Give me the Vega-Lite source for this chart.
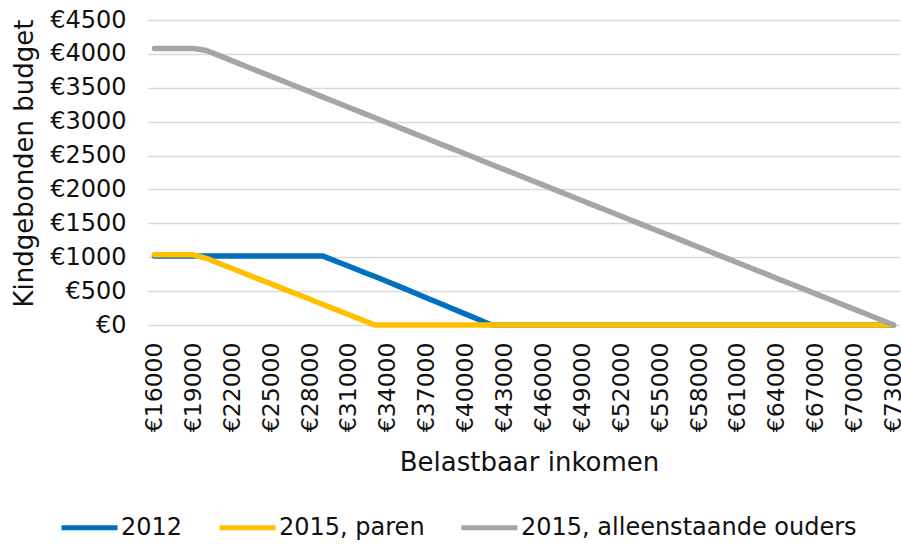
{
  "$schema": "https://vega.github.io/schema/vega-lite/v6.json",
  "autosize": "none",
  "width": 752,
  "height": 305,
  "padding": {"left": 148, "top": 20, "right": 1, "bottom": 220},
  "background": "white",
  "config": {
    "view": {"stroke": null},
    "font": "DejaVu Sans",
    "axis": {"labelFont": "DejaVu Sans", "titleFont": "DejaVu Sans", "labelColor": "#111111", "titleColor": "#111111", "titleFontWeight": "normal"}
  },
  "data": {
    "values": [
      {"inkomen": 16000, "serie": "2012", "budget": 1017},
      {"inkomen": 17000, "serie": "2012", "budget": 1017},
      {"inkomen": 18000, "serie": "2012", "budget": 1017},
      {"inkomen": 19000, "serie": "2012", "budget": 1017},
      {"inkomen": 20000, "serie": "2012", "budget": 1017},
      {"inkomen": 21000, "serie": "2012", "budget": 1017},
      {"inkomen": 22000, "serie": "2012", "budget": 1017},
      {"inkomen": 23000, "serie": "2012", "budget": 1017},
      {"inkomen": 24000, "serie": "2012", "budget": 1017},
      {"inkomen": 25000, "serie": "2012", "budget": 1017},
      {"inkomen": 26000, "serie": "2012", "budget": 1017},
      {"inkomen": 27000, "serie": "2012", "budget": 1017},
      {"inkomen": 28000, "serie": "2012", "budget": 1017},
      {"inkomen": 29000, "serie": "2012", "budget": 1017},
      {"inkomen": 30000, "serie": "2012", "budget": 941},
      {"inkomen": 31000, "serie": "2012", "budget": 866},
      {"inkomen": 32000, "serie": "2012", "budget": 790},
      {"inkomen": 33000, "serie": "2012", "budget": 715},
      {"inkomen": 34000, "serie": "2012", "budget": 639},
      {"inkomen": 35000, "serie": "2012", "budget": 559},
      {"inkomen": 36000, "serie": "2012", "budget": 479},
      {"inkomen": 37000, "serie": "2012", "budget": 399},
      {"inkomen": 38000, "serie": "2012", "budget": 320},
      {"inkomen": 39000, "serie": "2012", "budget": 240},
      {"inkomen": 40000, "serie": "2012", "budget": 160},
      {"inkomen": 41000, "serie": "2012", "budget": 80},
      {"inkomen": 42000, "serie": "2012", "budget": 0},
      {"inkomen": 43000, "serie": "2012", "budget": 0},
      {"inkomen": 44000, "serie": "2012", "budget": 0},
      {"inkomen": 45000, "serie": "2012", "budget": 0},
      {"inkomen": 46000, "serie": "2012", "budget": 0},
      {"inkomen": 47000, "serie": "2012", "budget": 0},
      {"inkomen": 48000, "serie": "2012", "budget": 0},
      {"inkomen": 49000, "serie": "2012", "budget": 0},
      {"inkomen": 50000, "serie": "2012", "budget": 0},
      {"inkomen": 51000, "serie": "2012", "budget": 0},
      {"inkomen": 52000, "serie": "2012", "budget": 0},
      {"inkomen": 53000, "serie": "2012", "budget": 0},
      {"inkomen": 54000, "serie": "2012", "budget": 0},
      {"inkomen": 55000, "serie": "2012", "budget": 0},
      {"inkomen": 56000, "serie": "2012", "budget": 0},
      {"inkomen": 57000, "serie": "2012", "budget": 0},
      {"inkomen": 58000, "serie": "2012", "budget": 0},
      {"inkomen": 59000, "serie": "2012", "budget": 0},
      {"inkomen": 60000, "serie": "2012", "budget": 0},
      {"inkomen": 61000, "serie": "2012", "budget": 0},
      {"inkomen": 62000, "serie": "2012", "budget": 0},
      {"inkomen": 63000, "serie": "2012", "budget": 0},
      {"inkomen": 64000, "serie": "2012", "budget": 0},
      {"inkomen": 65000, "serie": "2012", "budget": 0},
      {"inkomen": 66000, "serie": "2012", "budget": 0},
      {"inkomen": 67000, "serie": "2012", "budget": 0},
      {"inkomen": 68000, "serie": "2012", "budget": 0},
      {"inkomen": 69000, "serie": "2012", "budget": 0},
      {"inkomen": 70000, "serie": "2012", "budget": 0},
      {"inkomen": 71000, "serie": "2012", "budget": 0},
      {"inkomen": 72000, "serie": "2012", "budget": 0},
      {"inkomen": 73000, "serie": "2012", "budget": 0},
      {"inkomen": 16000, "serie": "2015, paren", "budget": 1035},
      {"inkomen": 17000, "serie": "2015, paren", "budget": 1035},
      {"inkomen": 18000, "serie": "2015, paren", "budget": 1035},
      {"inkomen": 19000, "serie": "2015, paren", "budget": 1035},
      {"inkomen": 20000, "serie": "2015, paren", "budget": 984},
      {"inkomen": 21000, "serie": "2015, paren", "budget": 908},
      {"inkomen": 22000, "serie": "2015, paren", "budget": 833},
      {"inkomen": 23000, "serie": "2015, paren", "budget": 757},
      {"inkomen": 24000, "serie": "2015, paren", "budget": 681},
      {"inkomen": 25000, "serie": "2015, paren", "budget": 606},
      {"inkomen": 26000, "serie": "2015, paren", "budget": 530},
      {"inkomen": 27000, "serie": "2015, paren", "budget": 454},
      {"inkomen": 28000, "serie": "2015, paren", "budget": 379},
      {"inkomen": 29000, "serie": "2015, paren", "budget": 303},
      {"inkomen": 30000, "serie": "2015, paren", "budget": 227},
      {"inkomen": 31000, "serie": "2015, paren", "budget": 151},
      {"inkomen": 32000, "serie": "2015, paren", "budget": 76},
      {"inkomen": 33000, "serie": "2015, paren", "budget": 0},
      {"inkomen": 34000, "serie": "2015, paren", "budget": 0},
      {"inkomen": 35000, "serie": "2015, paren", "budget": 0},
      {"inkomen": 36000, "serie": "2015, paren", "budget": 0},
      {"inkomen": 37000, "serie": "2015, paren", "budget": 0},
      {"inkomen": 38000, "serie": "2015, paren", "budget": 0},
      {"inkomen": 39000, "serie": "2015, paren", "budget": 0},
      {"inkomen": 40000, "serie": "2015, paren", "budget": 0},
      {"inkomen": 41000, "serie": "2015, paren", "budget": 0},
      {"inkomen": 42000, "serie": "2015, paren", "budget": 0},
      {"inkomen": 43000, "serie": "2015, paren", "budget": 0},
      {"inkomen": 44000, "serie": "2015, paren", "budget": 0},
      {"inkomen": 45000, "serie": "2015, paren", "budget": 0},
      {"inkomen": 46000, "serie": "2015, paren", "budget": 0},
      {"inkomen": 47000, "serie": "2015, paren", "budget": 0},
      {"inkomen": 48000, "serie": "2015, paren", "budget": 0},
      {"inkomen": 49000, "serie": "2015, paren", "budget": 0},
      {"inkomen": 50000, "serie": "2015, paren", "budget": 0},
      {"inkomen": 51000, "serie": "2015, paren", "budget": 0},
      {"inkomen": 52000, "serie": "2015, paren", "budget": 0},
      {"inkomen": 53000, "serie": "2015, paren", "budget": 0},
      {"inkomen": 54000, "serie": "2015, paren", "budget": 0},
      {"inkomen": 55000, "serie": "2015, paren", "budget": 0},
      {"inkomen": 56000, "serie": "2015, paren", "budget": 0},
      {"inkomen": 57000, "serie": "2015, paren", "budget": 0},
      {"inkomen": 58000, "serie": "2015, paren", "budget": 0},
      {"inkomen": 59000, "serie": "2015, paren", "budget": 0},
      {"inkomen": 60000, "serie": "2015, paren", "budget": 0},
      {"inkomen": 61000, "serie": "2015, paren", "budget": 0},
      {"inkomen": 62000, "serie": "2015, paren", "budget": 0},
      {"inkomen": 63000, "serie": "2015, paren", "budget": 0},
      {"inkomen": 64000, "serie": "2015, paren", "budget": 0},
      {"inkomen": 65000, "serie": "2015, paren", "budget": 0},
      {"inkomen": 66000, "serie": "2015, paren", "budget": 0},
      {"inkomen": 67000, "serie": "2015, paren", "budget": 0},
      {"inkomen": 68000, "serie": "2015, paren", "budget": 0},
      {"inkomen": 69000, "serie": "2015, paren", "budget": 0},
      {"inkomen": 70000, "serie": "2015, paren", "budget": 0},
      {"inkomen": 71000, "serie": "2015, paren", "budget": 0},
      {"inkomen": 72000, "serie": "2015, paren", "budget": 0},
      {"inkomen": 73000, "serie": "2015, paren", "budget": 0},
      {"inkomen": 16000, "serie": "2015, alleenstaande ouders", "budget": 4080},
      {"inkomen": 17000, "serie": "2015, alleenstaande ouders", "budget": 4080},
      {"inkomen": 18000, "serie": "2015, alleenstaande ouders", "budget": 4080},
      {"inkomen": 19000, "serie": "2015, alleenstaande ouders", "budget": 4080},
      {"inkomen": 20000, "serie": "2015, alleenstaande ouders", "budget": 4050},
      {"inkomen": 21000, "serie": "2015, alleenstaande ouders", "budget": 3974},
      {"inkomen": 22000, "serie": "2015, alleenstaande ouders", "budget": 3897},
      {"inkomen": 23000, "serie": "2015, alleenstaande ouders", "budget": 3821},
      {"inkomen": 24000, "serie": "2015, alleenstaande ouders", "budget": 3744},
      {"inkomen": 25000, "serie": "2015, alleenstaande ouders", "budget": 3668},
      {"inkomen": 26000, "serie": "2015, alleenstaande ouders", "budget": 3592},
      {"inkomen": 27000, "serie": "2015, alleenstaande ouders", "budget": 3515},
      {"inkomen": 28000, "serie": "2015, alleenstaande ouders", "budget": 3439},
      {"inkomen": 29000, "serie": "2015, alleenstaande ouders", "budget": 3362},
      {"inkomen": 30000, "serie": "2015, alleenstaande ouders", "budget": 3286},
      {"inkomen": 31000, "serie": "2015, alleenstaande ouders", "budget": 3210},
      {"inkomen": 32000, "serie": "2015, alleenstaande ouders", "budget": 3133},
      {"inkomen": 33000, "serie": "2015, alleenstaande ouders", "budget": 3057},
      {"inkomen": 34000, "serie": "2015, alleenstaande ouders", "budget": 2980},
      {"inkomen": 35000, "serie": "2015, alleenstaande ouders", "budget": 2904},
      {"inkomen": 36000, "serie": "2015, alleenstaande ouders", "budget": 2828},
      {"inkomen": 37000, "serie": "2015, alleenstaande ouders", "budget": 2751},
      {"inkomen": 38000, "serie": "2015, alleenstaande ouders", "budget": 2675},
      {"inkomen": 39000, "serie": "2015, alleenstaande ouders", "budget": 2598},
      {"inkomen": 40000, "serie": "2015, alleenstaande ouders", "budget": 2522},
      {"inkomen": 41000, "serie": "2015, alleenstaande ouders", "budget": 2446},
      {"inkomen": 42000, "serie": "2015, alleenstaande ouders", "budget": 2369},
      {"inkomen": 43000, "serie": "2015, alleenstaande ouders", "budget": 2293},
      {"inkomen": 44000, "serie": "2015, alleenstaande ouders", "budget": 2216},
      {"inkomen": 45000, "serie": "2015, alleenstaande ouders", "budget": 2140},
      {"inkomen": 46000, "serie": "2015, alleenstaande ouders", "budget": 2064},
      {"inkomen": 47000, "serie": "2015, alleenstaande ouders", "budget": 1987},
      {"inkomen": 48000, "serie": "2015, alleenstaande ouders", "budget": 1911},
      {"inkomen": 49000, "serie": "2015, alleenstaande ouders", "budget": 1834},
      {"inkomen": 50000, "serie": "2015, alleenstaande ouders", "budget": 1758},
      {"inkomen": 51000, "serie": "2015, alleenstaande ouders", "budget": 1682},
      {"inkomen": 52000, "serie": "2015, alleenstaande ouders", "budget": 1605},
      {"inkomen": 53000, "serie": "2015, alleenstaande ouders", "budget": 1529},
      {"inkomen": 54000, "serie": "2015, alleenstaande ouders", "budget": 1452},
      {"inkomen": 55000, "serie": "2015, alleenstaande ouders", "budget": 1376},
      {"inkomen": 56000, "serie": "2015, alleenstaande ouders", "budget": 1300},
      {"inkomen": 57000, "serie": "2015, alleenstaande ouders", "budget": 1223},
      {"inkomen": 58000, "serie": "2015, alleenstaande ouders", "budget": 1147},
      {"inkomen": 59000, "serie": "2015, alleenstaande ouders", "budget": 1070},
      {"inkomen": 60000, "serie": "2015, alleenstaande ouders", "budget": 994},
      {"inkomen": 61000, "serie": "2015, alleenstaande ouders", "budget": 918},
      {"inkomen": 62000, "serie": "2015, alleenstaande ouders", "budget": 841},
      {"inkomen": 63000, "serie": "2015, alleenstaande ouders", "budget": 765},
      {"inkomen": 64000, "serie": "2015, alleenstaande ouders", "budget": 688},
      {"inkomen": 65000, "serie": "2015, alleenstaande ouders", "budget": 612},
      {"inkomen": 66000, "serie": "2015, alleenstaande ouders", "budget": 536},
      {"inkomen": 67000, "serie": "2015, alleenstaande ouders", "budget": 459},
      {"inkomen": 68000, "serie": "2015, alleenstaande ouders", "budget": 383},
      {"inkomen": 69000, "serie": "2015, alleenstaande ouders", "budget": 306},
      {"inkomen": 70000, "serie": "2015, alleenstaande ouders", "budget": 230},
      {"inkomen": 71000, "serie": "2015, alleenstaande ouders", "budget": 154},
      {"inkomen": 72000, "serie": "2015, alleenstaande ouders", "budget": 77},
      {"inkomen": 73000, "serie": "2015, alleenstaande ouders", "budget": 0}
    ]
  },
  "mark": {"type": "line", "strokeWidth": 5.5, "strokeCap": "round", "strokeJoin": "round"},
  "encoding": {
    "x": {
      "field": "inkomen",
      "type": "quantitative",
      "scale": {"domain": [15500, 73500], "nice": false, "zero": false},
      "axis": {
        "title": "Belastbaar inkomen",
        "values": [16000, 19000, 22000, 25000, 28000, 31000, 34000, 37000, 40000, 43000, 46000, 49000, 52000, 55000, 58000, 61000, 64000, 67000, 70000, 73000],
        "labelExpr": "'€' + datum.value",
        "labelAngle": -90,
        "labelFontSize": 23.5,
        "labelPadding": 17,
        "labelOverlap": false,
        "labelFlush": false,
        "ticks": false,
        "domain": false,
        "grid": false,
        "titleFontSize": 26,
        "titlePadding": 18,
        "titleX": 381
      }
    },
    "y": {
      "field": "budget",
      "type": "quantitative",
      "scale": {"domain": [0, 4500], "nice": false},
      "axis": {
        "title": "Kindgebonden budget",
        "values": [0, 500, 1000, 1500, 2000, 2500, 3000, 3500, 4000, 4500],
        "labelExpr": "'€' + datum.value",
        "labelFontSize": 24,
        "labelPadding": 22,
        "labelFlush": false,
        "ticks": false,
        "domain": false,
        "grid": true,
        "gridColor": "#d9d9d9",
        "gridWidth": 1.3,
        "titleFontSize": 26,
        "titlePadding": 12,
        "titleY": 143
      }
    },
    "color": {
      "field": "serie",
      "type": "nominal",
      "sort": ["2012", "2015, paren", "2015, alleenstaande ouders"],
      "scale": {"domain": ["2012", "2015, paren", "2015, alleenstaande ouders"], "range": ["#0070c0", "#ffc000", "#a5a5a5"]},
      "legend": {
        "title": null,
        "orient": "none",
        "direction": "horizontal",
        "legendX": -89,
        "legendY": 477,
        "padding": 0,
        "symbolType": "stroke",
        "symbolSize": 3136,
        "symbolStrokeWidth": 5,
        "labelFont": "DejaVu Sans",
        "labelFontSize": 24,
        "labelColor": "#111111",
        "labelOffset": 1,
        "columnPadding": 26,
        "labelLimit": 500
      }
    }
  }
}
